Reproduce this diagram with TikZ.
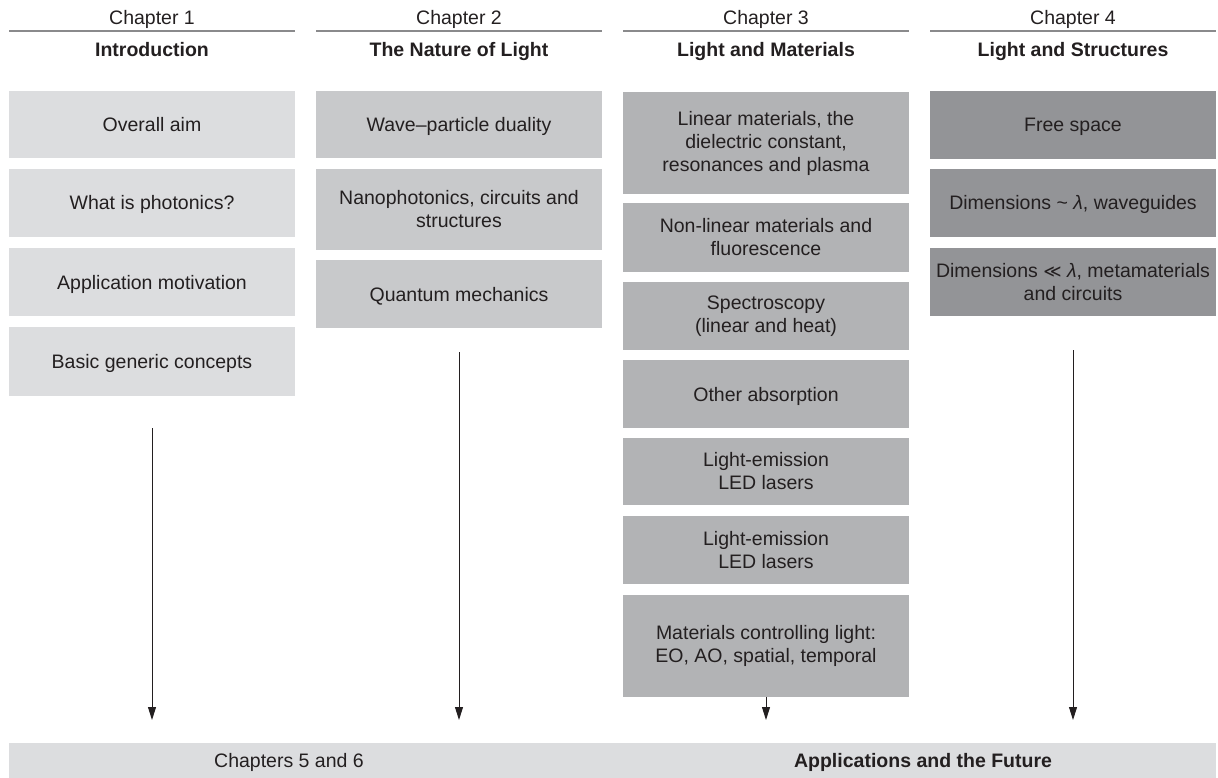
\documentclass[tikz,border=0pt]{standalone}
\usepackage{fontspec}
\setmainfont{Liberation Sans}
\newfontfamily\symbolfont{DejaVu Sans}
\usetikzlibrary{arrows.meta}

\definecolor{inkcol}{HTML}{231F20}
\definecolor{introfill}{HTML}{DCDDDF}
\definecolor{naturefill}{HTML}{C8C9CB}
\definecolor{matfill}{HTML}{B2B3B5}
\definecolor{structfill}{HTML}{939497}
\definecolor{rulecol}{HTML}{8A8A8C}

\tikzset{
  base/.style={font=\fontsize{19.5}{23}\selectfont, text=inkcol, inner sep=0pt},
  topic/.style={base, minimum width=286pt, align=center},
  oneline/.style={text height=15pt, text depth=1pt},
  chap/.style={base, anchor=base},
  title/.style={base, anchor=base, font=\fontsize{19.5}{23}\selectfont\bfseries},
  headrule/.style={draw=rulecol, line width=2pt},
  flow/.style={draw=inkcol, line width=0.9pt, -{Triangle[width=8pt,length=13pt]}},
}

\begin{document}
\begin{tikzpicture}[x=1pt,y=1pt]
\useasboundingbox (0,0) rectangle (1218,-778);

% ---- column headings ----
\foreach \cx/\num/\ttl [count=\i] in {152/1/Introduction, 459/2/The Nature of Light, 766/3/Light and Materials, 1073/4/Light and Structures}{
  \node[chap] (chap\i) at (\cx,-25) {Chapter \num};
  \node[title] (ttl\i) at (\cx,-57) {\ttl};
  \coordinate (rl\i) at (\cx-143,-31);
  \coordinate (rr\i) at (\cx+143,-31);
  \draw[headrule] (rl\i) -- (rr\i);
}

% ---- Chapter 1 ----
\node[topic, oneline, fill=introfill, minimum height=67pt] (i1) at (152,-124.5) {Overall aim};
\node[topic, oneline, fill=introfill, minimum height=68pt] (i2) at (152,-203) {What is photonics?};
\node[topic, oneline, fill=introfill, minimum height=68pt] (i3) at (152,-282) {Application motivation};
\node[topic, oneline, fill=introfill, minimum height=69pt] (i4) at (152,-361.5) {Basic generic concepts};

% ---- Chapter 2 ----
\node[topic, oneline, fill=naturefill, minimum height=67pt] (n1) at (459,-124.5) {Wave--particle duality};
\node[topic, fill=naturefill, minimum height=81pt] (n2) at (459,-209.5) {Nanophotonics, circuits and\\structures};
\node[topic, oneline, fill=naturefill, minimum height=68pt] (n3) at (459,-294) {Quantum mechanics};

% ---- Chapter 3 ----
\node[topic, fill=matfill, minimum height=102pt] (m1) at (766,-143) {Linear materials, the\\dielectric constant,\\resonances and plasma};
\node[topic, fill=matfill, minimum height=69pt] (m2) at (766,-237.5) {Non-linear materials and\\fluorescence};
\node[topic, fill=matfill, minimum height=68pt] (m3) at (766,-316) {Spectroscopy\\(linear and heat)};
\node[topic, oneline, fill=matfill, minimum height=68pt] (m4) at (766,-394) {Other absorption};
\node[topic, fill=matfill, minimum height=67pt] (m5) at (766,-471.5) {Light-emission\\LED lasers};
\node[topic, fill=matfill, minimum height=68pt] (m6) at (766,-550) {Light-emission\\LED lasers};
\node[topic, fill=matfill, minimum height=102pt] (m7) at (766,-646) {Materials controlling light:\\EO, AO, spatial, temporal};

% ---- Chapter 4 ----
\node[topic, oneline, fill=structfill, minimum height=68pt] (s1) at (1073,-125) {Free space};
\node[topic, oneline, fill=structfill, minimum height=68pt] (s2) at (1073,-203) {Dimensions \textasciitilde\ \textit{λ}, waveguides};
\node[topic, fill=structfill, minimum height=68pt] (s3) at (1073,-282) {Dimensions {\symbolfont\fontsize{17.5}{17.5}\selectfont ≪} \textit{λ}, metamaterials\\and circuits};

% ---- Chapters 5 and 6 ----
\node[base, fill=introfill, minimum width=1207pt, minimum height=35pt] (fut) at (612.5,-760.5) {};
\node[chap] (futnum) at (289,-767) {Chapters 5 and 6};
\node[title] (futttl) at (923,-767) {Applications and the Future};

% ---- flow into the final chapters ----
\coordinate (a1s) at (152,-428);
\coordinate (a2s) at (459,-352);
\coordinate (a4s) at (1073,-350);
\foreach \i/\cx in {1/152, 2/459, 3/766, 4/1073}{
  \coordinate (a\i e) at (\cx,-720);
}
\draw[flow] (a1s) -- (a1e);
\draw[flow] (a2s) -- (a2e);
\draw[flow] (m7.south) -- (a3e);
\draw[flow] (a4s) -- (a4e);
\end{tikzpicture}
\end{document}
